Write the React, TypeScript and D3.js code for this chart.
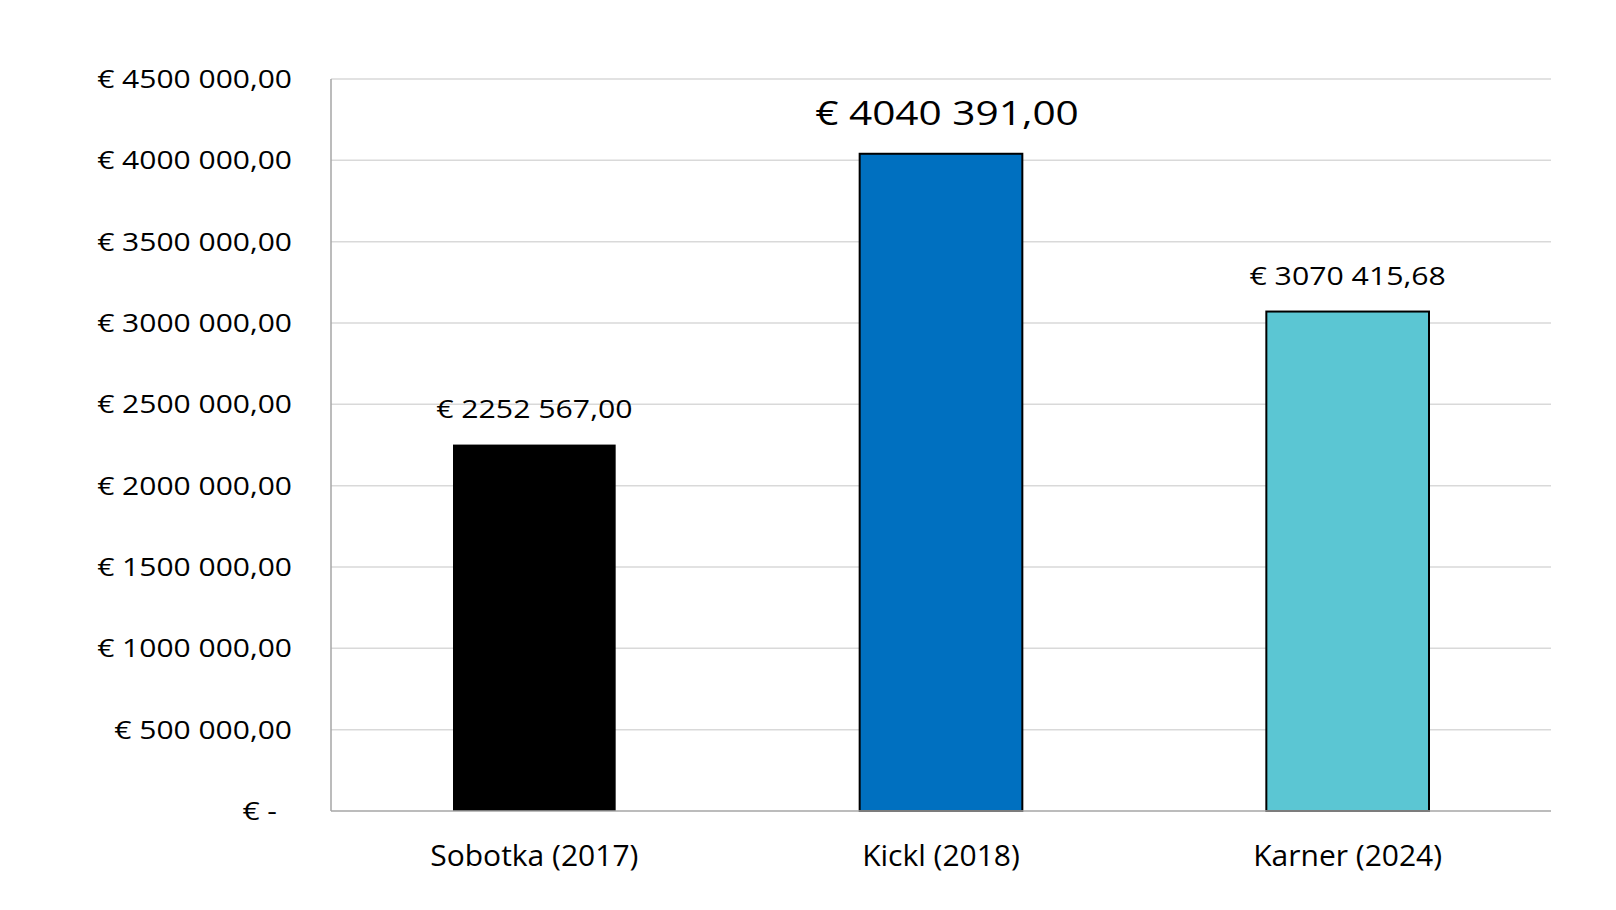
import React from "react";
import * as d3 from "d3";

const categories = ["Sobotka (2017)", "Kickl (2018)", "Karner (2024)"];
const values = [2252567.0, 4040391.0, 3070415.68];
const valueLabels = ["€ 2252 567,00", "€ 4040 391,00", "€ 3070 415,68"];
const barColors = ["#000000", "#0070C0", "#5BC6D3"];
const tickValues = [0, 500000, 1000000, 1500000, 2000000, 2500000, 3000000, 3500000, 4000000, 4500000];
const tickLabels = ["€ -", "€ 500 000,00", "€ 1000 000,00", "€ 1500 000,00", "€ 2000 000,00", "€ 2500 000,00", "€ 3000 000,00", "€ 3500 000,00", "€ 4000 000,00", "€ 4500 000,00"];

const W = 1616;
const H = 910;
const left = 331;
const right = 1551;
const top = 79;
const bottom = 811;
const font = "'Open Sans', 'Noto Sans', sans-serif";

export default function App() {
  const x = d3.scaleBand<string>().domain(categories).range([left, right]).paddingInner(0.6).paddingOuter(0.3);
  const y = d3.scaleLinear().domain([0, 4500000]).range([bottom, top]);
  return (
    <svg width={W} height={H} style={{ position: "absolute", left: 0, top: 0, background: "#fff" }}>
      <rect x={0} y={0} width={W} height={H} fill="#fff" />
      {tickValues.map((t, i) => (
        <g key={t}>
          {i > 0 && <line x1={left} x2={right} y1={y(t)} y2={y(t)} stroke="#D9D9D9" strokeWidth={1.5} />}
          <g transform={`translate(${t === 0 ? 277 : 292},${y(t)}) scale(1.2,1)`}>
            <text x={0} y={0} dy="0.36em" textAnchor="end" fontFamily={font} fontSize={25} fill="#000">
              {tickLabels[i]}
            </text>
          </g>
        </g>
      ))}
      <line x1={left} x2={left} y1={top} y2={bottom} stroke="#A6A6A6" strokeWidth={1.5} />
      {categories.map((c, i) => {
        const bx = x(c)!;
        const bw = x.bandwidth();
        const by = y(values[i]);
        const big = i === 1;
        return (
          <g key={c}>
            <rect
              x={bx}
              y={by}
              width={bw}
              height={bottom - by}
              fill={barColors[i]}
              stroke="#000"
              strokeWidth={i === 0 ? 0 : 2}
            />
            <g transform={`translate(${bx + bw / 2 + (big ? 6 : 0)},${by - (big ? 29 : 27)}) scale(${big ? 1.23 : 1.21},1)`}>
              <text x={0} y={0} textAnchor="middle" fontFamily={font} fontSize={big ? 33 : 25} fill="#000">
                {valueLabels[i]}
              </text>
            </g>
            <text x={bx + bw / 2} y={866} textAnchor="middle" fontFamily={font} fontSize={30} fill="#000">
              {c}
            </text>
          </g>
        );
      })}
      <line x1={left} x2={right} y1={bottom} y2={bottom} stroke="#A6A6A6" strokeWidth={1.5} />
    </svg>
  );
}
